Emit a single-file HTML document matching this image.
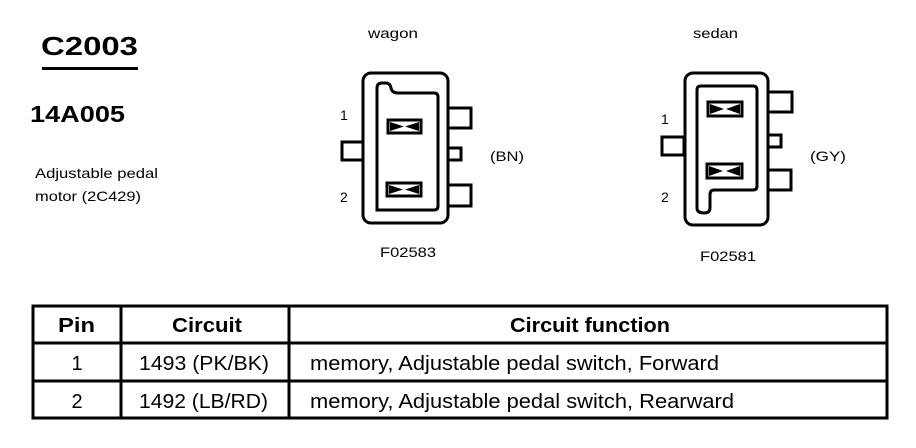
<!DOCTYPE html>
<html><head><meta charset="utf-8"><style>
html,body{margin:0;padding:0;background:#fff;}
svg{display:block;}
text{font-family:"Liberation Sans",Arial,sans-serif;fill:#000;}
</style></head><body>
<svg width="916" height="448" viewBox="0 0 916 448" xmlns="http://www.w3.org/2000/svg">
<text x="41" y="55" font-size="26" font-weight="bold" textLength="97" lengthAdjust="spacingAndGlyphs">C2003</text>
<rect x="42" y="67" width="96" height="3" fill="#000"/>
<text x="30" y="122" font-size="23" font-weight="bold" textLength="95" lengthAdjust="spacingAndGlyphs">14A005</text>
<text x="35" y="178" font-size="14" textLength="123" lengthAdjust="spacingAndGlyphs">Adjustable pedal</text>
<text x="35" y="201" font-size="14" textLength="106" lengthAdjust="spacingAndGlyphs">motor (2C429)</text>

<text x="368" y="38" font-size="14" textLength="50" lengthAdjust="spacingAndGlyphs">wagon</text>
<text x="693" y="38" font-size="14" textLength="45" lengthAdjust="spacingAndGlyphs">sedan</text>

<!-- wagon -->
<g fill="none" stroke="#000" stroke-width="3">
<rect x="448" y="108" width="23" height="20" fill="#fff"/>
<rect x="448" y="148" width="13" height="12" fill="#fff"/>
<rect x="448" y="185" width="23" height="21" fill="#fff"/>
<rect x="342" y="142" width="22" height="18" fill="#fff"/>
<rect x="363" y="73" width="85" height="150" rx="8" fill="#fff"/>
<path d="M377 210 V88 Q377 83 382 83 H386 Q390 83 391 88 Q392 93 398 93 H434 Q438 93 438 97 V206 Q438 210 434 210 Z"/>
<rect x="388" y="120" width="33" height="13"/>
<rect x="387" y="183" width="34" height="13"/>
</g>
<g fill="#000">
<path d="M390 122 L404 126.5 L390 131Z M419 122 L405 126.5 L419 131Z"/>
<path d="M389 185 L403 189.5 L389 194Z M419 185 L405 189.5 L419 194Z"/>
</g>
<text x="340" y="120" font-size="14">1</text>
<text x="340" y="202" font-size="14">2</text>
<text x="490" y="161" font-size="14" textLength="34" lengthAdjust="spacingAndGlyphs">(BN)</text>
<text x="380" y="257" font-size="14" textLength="56" lengthAdjust="spacingAndGlyphs">F02583</text>

<!-- sedan -->
<g fill="none" stroke="#000" stroke-width="3">
<rect x="768" y="92" width="24" height="20" fill="#fff"/>
<rect x="768" y="135" width="13" height="12" fill="#fff"/>
<rect x="768" y="170" width="23" height="20" fill="#fff"/>
<rect x="662" y="137" width="22" height="18" fill="#fff"/>
<rect x="685" y="73" width="83" height="152" rx="8" fill="#fff"/>
<path d="M697 90 Q697 86 701 86 H753 Q757 86 757 90 V186 Q757 190 753 190 H714 Q710 190 710 195 V208 Q710 213 704 213 Q697 213 697 208 Z"/>
<rect x="708" y="102" width="34" height="14"/>
<rect x="707" y="164" width="35" height="14"/>
</g>
<g fill="#000">
<path d="M710 104 L724 109 L710 114Z M740 104 L726 109 L740 114Z"/>
<path d="M709 166 L723 171 L709 176Z M740 166 L726 171 L740 176Z"/>
</g>
<text x="661" y="124" font-size="14">1</text>
<text x="661" y="202" font-size="14">2</text>
<text x="810" y="161" font-size="14" textLength="36" lengthAdjust="spacingAndGlyphs">(GY)</text>
<text x="700" y="261" font-size="14" textLength="56" lengthAdjust="spacingAndGlyphs">F02581</text>

<!-- table -->
<g fill="none" stroke="#000" stroke-width="3">
<rect x="33" y="306" width="854" height="112"/>
<line x1="33" y1="343" x2="887" y2="343"/>
<line x1="33" y1="381" x2="887" y2="381"/>
<line x1="121" y1="306" x2="121" y2="418"/>
<line x1="289" y1="306" x2="289" y2="418"/>
</g>
<g font-size="20">
<text x="58" y="332" font-weight="bold" textLength="37" lengthAdjust="spacingAndGlyphs">Pin</text>
<text x="172" y="332" font-weight="bold" textLength="70" lengthAdjust="spacingAndGlyphs">Circuit</text>
<text x="510" y="332" font-weight="bold" textLength="160" lengthAdjust="spacingAndGlyphs">Circuit function</text>
<text x="77" y="370" text-anchor="middle">1</text>
<text x="139" y="370" textLength="130" lengthAdjust="spacingAndGlyphs">1493 (PK/BK)</text>
<text x="310" y="370" textLength="409" lengthAdjust="spacingAndGlyphs">memory, Adjustable pedal switch, Forward</text>
<text x="77" y="408" text-anchor="middle">2</text>
<text x="139" y="408" textLength="129" lengthAdjust="spacingAndGlyphs">1492 (LB/RD)</text>
<text x="310" y="408" textLength="424" lengthAdjust="spacingAndGlyphs">memory, Adjustable pedal switch, Rearward</text>
</g>
</svg>
</body></html>
